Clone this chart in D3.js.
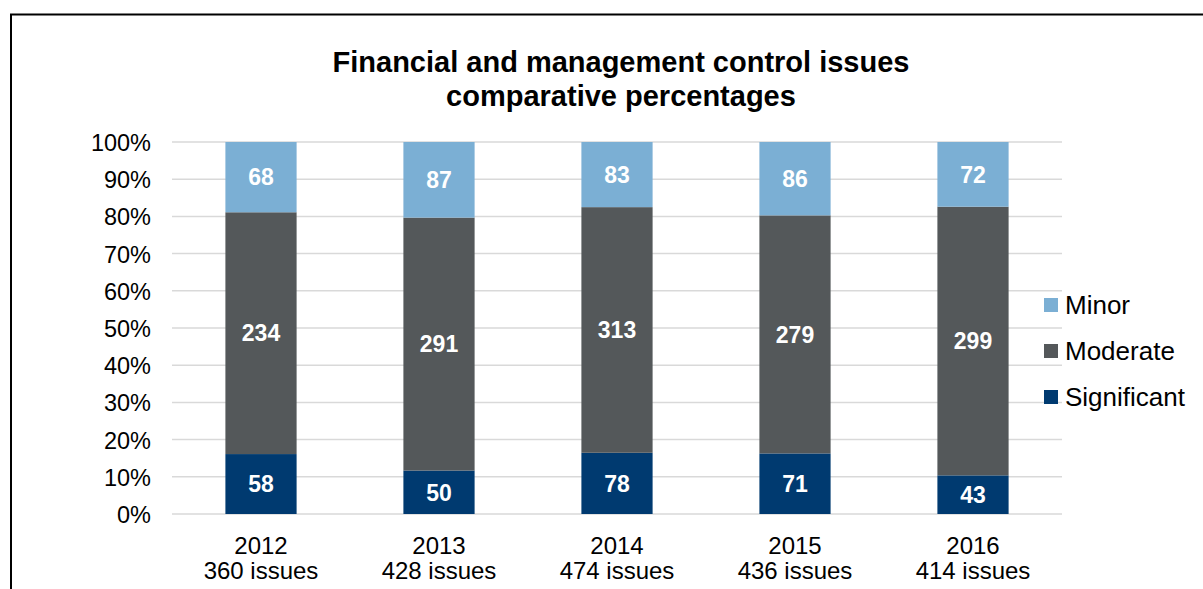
<!DOCTYPE html>
<html>
<head>
<meta charset="utf-8">
<script src="https://cdn.jsdelivr.net/npm/d3@7"></script>
<style>
  html, body { margin: 0; padding: 0; background: #fff; }
  svg { display: block; font-family: "Liberation Sans", Arial, sans-serif; }
</style>
</head>
<body>
<svg id="chart" width="1203" height="589"></svg>
<script>
// Issue counts per year, by severity
const years = ["2012", "2013", "2014", "2015", "2016"];
const totals = [360, 428, 474, 436, 414];
const significant = [58, 50, 78, 71, 43];
const moderate = [234, 291, 313, 279, 299];
const minor = [68, 87, 83, 86, 72];
const yTicks = [0, 0.1, 0.2, 0.3, 0.4, 0.5, 0.6, 0.7, 0.8, 0.9, 1.0];

const seriesNames = ["Significant", "Moderate", "Minor"];
const colors = { Significant: "#003A70", Moderate: "#54585A", Minor: "#7BAFD4" };

const rows = years.map((y, i) => ({
  year: y,
  total: totals[i],
  Significant: significant[i],
  Moderate: moderate[i],
  Minor: minor[i]
}));

const svg = d3.select("#chart");

// outer frame
svg.append("path")
  .attr("d", "M11,600 L11,14.5 L1210,14.5")
  .attr("fill", "none").attr("stroke", "#000").attr("stroke-width", 2);

const plot = { left: 172, right: 1062, top: 142, bottom: 514 };

const x = d3.scaleBand().domain(years).range([plot.left, plot.right]).paddingInner(0.6).paddingOuter(0.3);
const y = d3.scaleLinear().domain([0, 1]).range([plot.bottom, plot.top]);

// gridlines
svg.append("g").selectAll("line").data(yTicks).join("line")
  .attr("x1", plot.left).attr("x2", plot.right)
  .attr("y1", d => y(d)).attr("y2", d => y(d))
  .attr("stroke", "#d9d9d9").attr("stroke-width", 1.5);

// y axis labels
const yAxis = d3.axisLeft(y).tickValues(yTicks).tickFormat(d3.format(".0%")).tickSize(0).tickPadding(0);
const gy = svg.append("g").attr("transform", `translate(151,0)`).call(yAxis);
gy.select(".domain").remove();
gy.selectAll("text").attr("font-size", 23.5).attr("fill", "#000")
  .attr("font-family", "Liberation Sans, Arial, sans-serif").attr("dy", "0.36em");

// stacked bars as shares of the yearly total
const stack = d3.stack().keys(seriesNames)
  .value((d, k) => d[k] / d.total);
const layers = stack(rows);

const g = svg.append("g");
layers.forEach(layer => {
  const key = layer.key;
  g.append("g").selectAll("rect").data(layer).join("rect")
    .attr("x", d => x(d.data.year))
    .attr("width", x.bandwidth())
    .attr("y", d => y(d[1]))
    .attr("height", d => y(d[0]) - y(d[1]))
    .attr("fill", colors[key]);
  g.append("g").selectAll("text").data(layer).join("text")
    .attr("x", d => x(d.data.year) + x.bandwidth() / 2)
    .attr("y", d => (y(d[0]) + y(d[1])) / 2)
    .attr("dy", "0.36em")
    .attr("text-anchor", "middle")
    .attr("font-size", 23).attr("font-weight", "bold").attr("fill", "#fff")
    .text(d => d.data[key]);
});

// x axis labels
const xl = svg.append("g").selectAll("text").data(rows).join("text")
  .attr("x", d => x(d.year) + x.bandwidth() / 2)
  .attr("text-anchor", "middle").attr("font-size", 24).attr("fill", "#000");
xl.append("tspan").attr("x", d => x(d.year) + x.bandwidth() / 2).attr("y", 554).text(d => d.year);
xl.append("tspan").attr("x", d => x(d.year) + x.bandwidth() / 2).attr("y", 579).text(d => `${d.total} issues`);

// title
const title = svg.append("text").attr("text-anchor", "middle")
  .attr("font-size", 29).attr("font-weight", "bold").attr("fill", "#000");
title.append("tspan").attr("x", 621).attr("y", 72).text("Financial and management control issues");
title.append("tspan").attr("x", 621).attr("y", 106).text("comparative percentages");

// legend
const legendItems = ["Minor", "Moderate", "Significant"];
const lg = svg.append("g").selectAll("g").data(legendItems).join("g")
  .attr("transform", (d, i) => `translate(1044,${305 + i * 46})`);
lg.append("rect").attr("x", 0).attr("y", -7).attr("width", 14).attr("height", 14)
  .attr("fill", d => colors[d]);
lg.append("text").attr("x", 21).attr("dy", "0.36em").attr("font-size", 26).attr("fill", "#000")
  .text(d => d);
</script>
</body>
</html>
